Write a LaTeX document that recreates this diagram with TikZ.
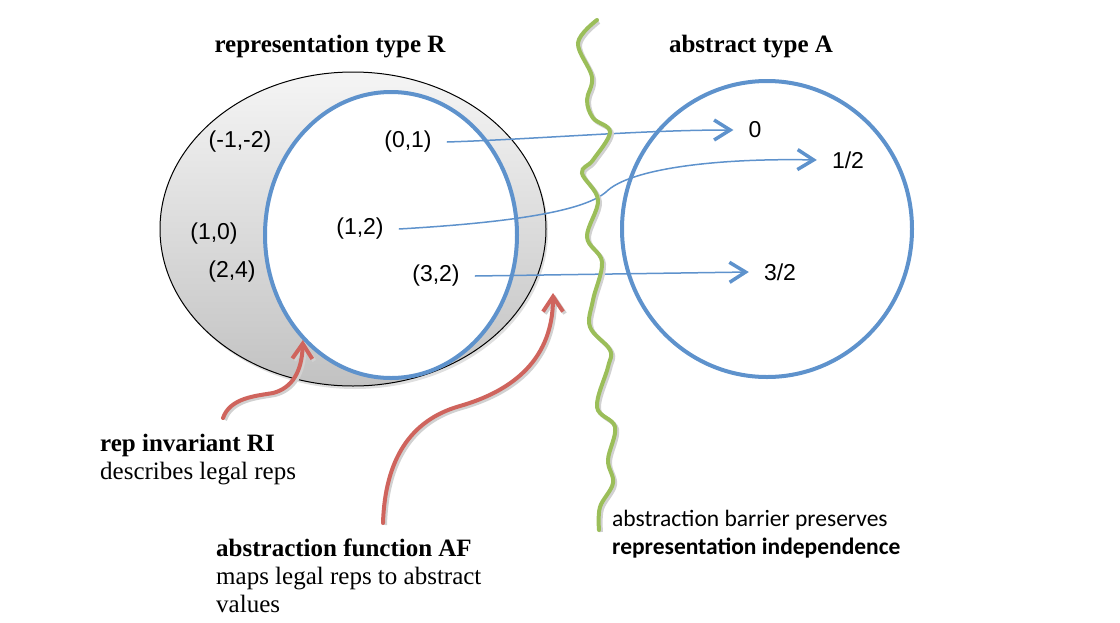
\documentclass[tikz,border=0pt]{standalone}
\usepackage{fontspec}
\setmainfont{Liberation Serif}
\newfontfamily\arialfont{Liberation Sans}
\newfontfamily\calibrifont{Carlito}
\usetikzlibrary{arrows.meta,shapes.geometric,shadows,positioning}

\definecolor{setblue}{RGB}{94,146,204}
\definecolor{barriergreen}{RGB}{155,190,89}
\definecolor{hintred}{RGB}{207,100,93}

\tikzset{
	typetitle/.style={font=\bfseries\fontsize{25}{28}\selectfont, anchor=base},
	valuelabel/.style={font=\arialfont\fontsize{23}{27}\selectfont, inner xsep=15pt},
	notetext/.style={font=\fontsize{25}{28}\selectfont, align=left, inner sep=0pt, anchor=north west},
	maparrow/.style={draw=setblue, line width=1.5pt,
		-{Straight Barb[length=16pt,width=20pt,line width=3.5pt]}},
	hintarrow/.style={draw=hintred, line width=4pt, line cap=round,
		preaction={draw=black!18, line width=4pt, transform canvas={xshift=2pt,yshift=-2pt}},
		-{Straight Barb[length=15pt,width=20pt,line width=4pt]}}
}

\begin{document}
\begin{tikzpicture}[x=1pt,y=-1pt]
	\useasboundingbox (0,0) rectangle (1120,622);

	% the two sets
	\node[ellipse, draw=black, line width=1pt, minimum width=386pt, minimum height=314pt,
		top color=black!4, bottom color=black!24,
		drop shadow={opacity=0.25, shadow xshift=2pt, shadow yshift=-3pt}] (repset) at (353,229) {};
	\node[ellipse, draw=setblue, fill=white, line width=4pt, minimum width=252pt, minimum height=286pt] (legal) at (391,235) {};
	\node[ellipse, draw=setblue, line width=4pt, minimum width=290pt, minimum height=296pt] (absset) at (767,229) {};

	\node[typetitle] (titleR) at (330,52) {representation type R};
	\node[typetitle] (titleA) at (751,52) {abstract type A};

	% representation values
	\node[valuelabel] (pm1m2) at (240,142) {(-1,-2)};
	\node[valuelabel] (p01) at (408,142) {(0,1)};
	\node[valuelabel] (p12) at (360,229) {(1,2)};
	\node[valuelabel] (p10) at (214,234) {(1,0)};
	\node[valuelabel] (p24) at (232,272) {(2,4)};
	\node[valuelabel] (p32) at (436,276) {(3,2)};

	% abstract values
	\node[valuelabel] (v0) at (755,130) {0};
	\node[valuelabel] (vhalf) at (848,160) {1/2};
	\node[valuelabel] (v32) at (780,272) {3/2};

	\draw[maparrow] (p01.east) .. controls (540,139) and (640,130) .. (v0.west);
	\draw[maparrow] (p12.east) .. controls (520,222) and (585,210) .. (606,192)
		.. controls (630,168) and (720,158) .. (vhalf.west);
	\draw[maparrow] (p32.east) -- (v32.west);

	% abstraction barrier
	\draw[barriergreen, line width=4pt, line cap=round,
		preaction={draw=black!18, line width=4pt, transform canvas={xshift=2pt,yshift=-2pt}}]
		plot[smooth, tension=0.6] coordinates {(597,20) (578,43) (592,77) (587,100) (593,118)
			(610,132) (593,160) (582,173) (598,200) (587,237) (602,262) (593,300) (590,327)
			(610,350) (608,367) (597,407) (615,427) (608,460) (613,483) (600,507) (599,530)};

	% notes
	\node[notetext] (riNote) at (100,434) {\textbf{rep invariant RI}\\describes legal reps};
	\node[notetext] (afNote) at (216,539) {\textbf{abstraction function AF}\\maps legal reps to abstract\\values};
	\node[notetext, font=\calibrifont\fontsize{23.5}{28}\selectfont] (barrierNote) at (612,510)
		{abstraction barrier preserves\\\textbf{representation independence}};

	\coordinate (riTail) at (223,418);
	\coordinate (afTail) at (383,523);
	\coordinate (afHead) at (553,293);

	\draw[hintarrow] (riTail) .. controls (230,398) and (255,396) .. (273,393)
		.. controls (292,388) and (302,372) .. (legal.230);
	\draw[hintarrow] (afTail) .. controls (385,460) and (410,420) .. (460,406)
		.. controls (505,393) and (553,365) .. (afHead);
\end{tikzpicture}
\end{document}
